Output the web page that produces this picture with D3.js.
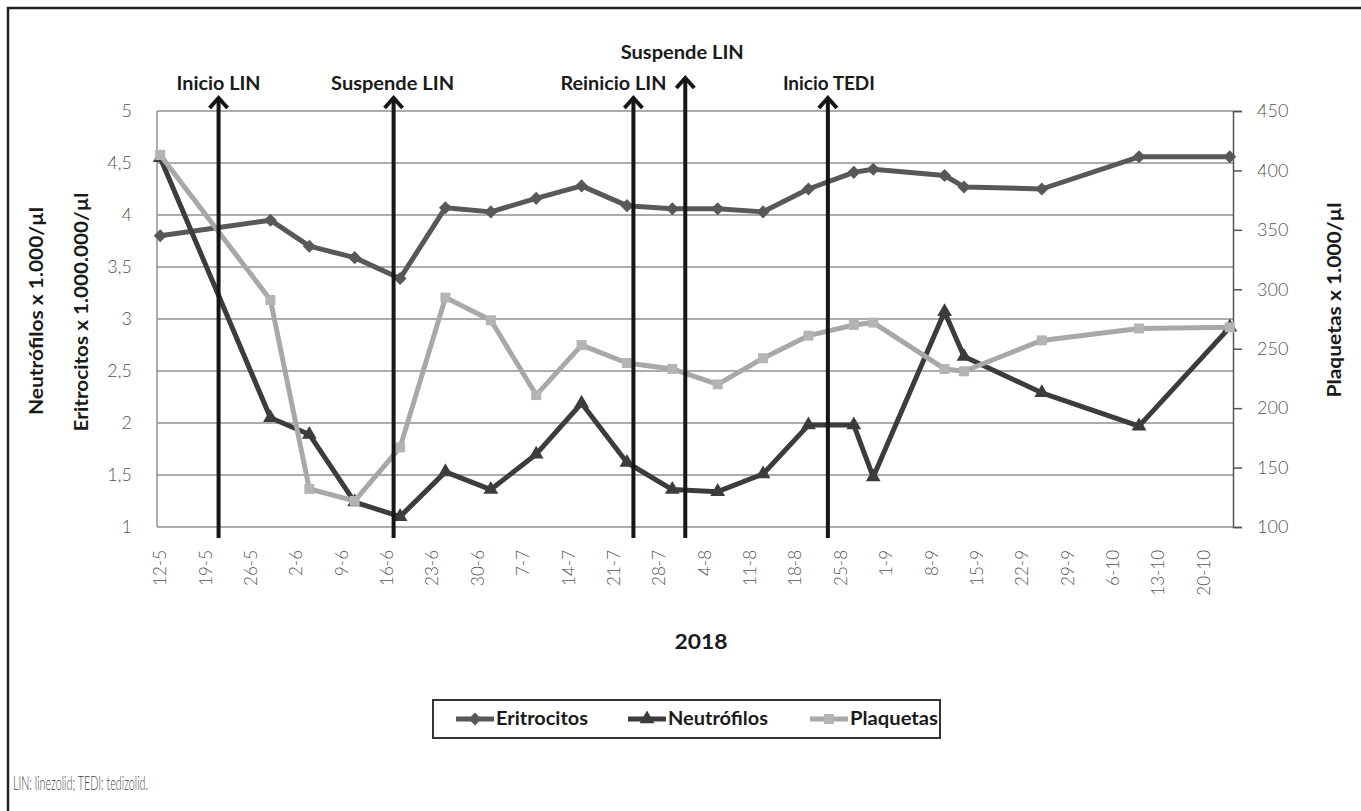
<!DOCTYPE html>
<html>
<head>
<meta charset="utf-8">
<script src="https://cdn.jsdelivr.net/npm/d3@7"></script>
<style>
  body { margin: 0; background: #fff; }
  svg { display: block; }
</style>
</head>
<body>
<div id="canvas"></div>
<script>
"use strict"

/* Datos: fechas de las analíticas (día-mes, 2018) */
let fechas = ["12-5","29-5","4-6","11-6","18-6","25-6","2-7","9-7","16-7","23-7","30-7",
              "6-8","13-8","20-8","27-8","30-8","10-9","13-9","25-9","10-10","24-10"];

// x 1.000.000/µl
let eritrocitos = [3.80,3.95,3.70,3.59,3.39,4.07,4.03,4.16,4.28,4.09,4.06,
                   4.06,4.03,4.25,4.41,4.44,4.38,4.27,4.25,4.56,4.56];
// x 1.000/µl
let neutrofilos = [4.55,2.05,1.89,1.24,1.10,1.53,1.36,1.70,2.19,1.62,1.36,
                   1.34,1.51,1.98,1.98,1.48,3.07,2.64,2.29,1.97,2.92];
// x 1.000/µl (eje derecho)
let plaquetas = [413,291,132,122,167,293,274,211,253,238,233,
                 220,242,261,270,272,233,231,257,267,268];

let semanas = ["12-5","19-5","26-5","2-6","9-6","16-6","23-6","30-6","7-7","14-7","21-7",
               "28-7","4-8","11-8","18-8","25-8","1-9","8-9","15-9","22-9","29-9","6-10",
               "13-10","20-10"];
let ticksIzq = [1, 1.5, 2, 2.5, 3, 3.5, 4, 4.5, 5];
let ticksDer = [100, 150, 200, 250, 300, 350, 400, 450];

let eventos = ["Inicio LIN", "Suspende LIN", "Reinicio LIN", "Suspende LIN", "Inicio TEDI"];
let fechasEventos = ["21-5", "17-6", "24-7", "1-8", "23-8"];

let series = ["Eritrocitos", "Neutrófilos", "Plaquetas"];

/* Configuración del dibujo */
let svgWidth = 1361;
let svgHeight = 811;

let plotLeft = 157;
let plotRight = 1233;
let plotTop = 111;
let plotBottom = 527;

let lineColors = ["#585858", "#3c3c3c", "#a8a8a8"];
let markerColors = ["#585858", "#3c3c3c", "#b4b4b4"];
let tickColor = "#555";
let gridColor = "#919191";

let fontName = "Lato, 'Open Sans', sans-serif";

function parseFecha(s) {
    let p = s.split("-");
    return new Date(Date.UTC(2018, +p[1] - 1, +p[0]));
}

let svg = d3.select("#canvas")
    .append("svg")
    .attr("width", svgWidth)
    .attr("height", svgHeight)
    .style("font-family", fontName);

/* marco (sólo se ven el borde superior e izquierdo) */
svg.append("path")
    .attr("d", "M8," + svgHeight + " L8,8 L" + svgWidth + ",8")
    .attr("fill", "none")
    .attr("stroke", "#222")
    .attr("stroke-width", 2.5);

/* Escalas */
let xScale = d3.scaleUtc()
    .domain([new Date(Date.UTC(2018, 4, 11, 12)), new Date(Date.UTC(2018, 9, 24, 12))])
    .range([plotLeft, plotRight]);

let yLeft = d3.scaleLinear()
    .domain([1, 5])
    .range([plotBottom, plotTop]);

let yRight = d3.scaleLinear()
    .domain([100, 450])
    .range([plotBottom, plotTop]);

let es = d3.formatLocale({decimal: ",", thousands: ".", grouping: [3], currency: ["", "€"]});
let fmt = es.format("~g");

/* Líneas de la cuadrícula */
svg.append("g")
    .selectAll("line")
    .data(ticksIzq)
    .join("line")
    .attr("x1", plotLeft)
    .attr("x2", plotRight)
    .attr("y1", d => yLeft(d))
    .attr("y2", d => yLeft(d))
    .attr("stroke", gridColor)
    .attr("stroke-width", 1.5);

// eje izquierdo (línea gris)
svg.append("line")
    .attr("x1", plotLeft).attr("x2", plotLeft)
    .attr("y1", plotTop).attr("y2", plotBottom)
    .attr("stroke", gridColor)
    .attr("stroke-width", 1.5);

svg.append("g")
    .selectAll("text")
    .data(ticksIzq)
    .join("text")
    .attr("x", plotLeft - 25)
    .attr("y", d => yLeft(d))
    .attr("dy", "0.35em")
    .attr("text-anchor", "end")
    .attr("font-size", 18)
    .attr("font-weight", 300)
    .attr("fill", tickColor)
    .text(d => fmt(d));

/* Eje derecho */
let rightAxis = svg.append("g")
    .attr("transform", "translate(" + plotRight + ",0)")
    .call(d3.axisRight(yRight).tickValues(ticksDer).tickSize(9).tickPadding(15).tickFormat(d3.format("d")));

rightAxis.select(".domain").attr("stroke", tickColor).attr("stroke-width", 1.5);
rightAxis.selectAll(".tick line").attr("stroke", tickColor).attr("stroke-width", 1.5);
rightAxis.selectAll(".tick text")
    .attr("font-family", fontName)
    .attr("font-size", 18)
    .attr("font-weight", 300)
    .attr("fill", tickColor);

/* Etiquetas de fecha (eje x) */
svg.append("g")
    .selectAll("text")
    .data(semanas)
    .join("text")
    .attr("transform", d => "translate(" + xScale(parseFecha(d)) + "," + (plotBottom + 23) + ") rotate(-90)")
    .attr("dy", "0.35em")
    .attr("text-anchor", "end")
    .attr("font-size", 17)
    .attr("font-weight", 300)
    .attr("fill", tickColor)
    .text(d => d);

/* Series */
let valores = [eritrocitos, neutrofilos, plaquetas];
let escalas = [yLeft, yLeft, yRight];
let simbolos = [
    d3.symbol(d3.symbolSquare, 85),
    d3.symbol(d3.symbolTriangle, 95),
    d3.symbol(d3.symbolSquare, 100)
];
let rotaciones = [45, 0, 0];

for (let s = 0; s < series.length; s++) {
    let puntos = fechas.map((f, i) => ({fecha: parseFecha(f), v: valores[s][i]}));
    let yS = escalas[s];

    svg.append("path")
        .datum(puntos)
        .attr("fill", "none")
        .attr("stroke", lineColors[s])
        .attr("stroke-width", 5)
        .attr("stroke-linejoin", "round")
        .attr("d", d3.line().x(d => xScale(d.fecha)).y(d => yS(d.v)));

    svg.append("g")
        .selectAll("path")
        .data(puntos)
        .join("path")
        .attr("transform", d => "translate(" + xScale(d.fecha) + "," + yS(d.v) + ") rotate(" + rotaciones[s] + ")")
        .attr("d", simbolos[s])
        .attr("fill", markerColors[s]);
}

/* Flechas de tratamiento */
let filaAlta = [false, false, false, true, false];
let desplazaTexto = [0, -1, -20, -3, 1];
let anchoTexto = [84, 123, 106, 123, 92];
let arrowBottom = 538;

for (let i = 0; i < eventos.length; i++) {
    let x = xScale(parseFecha(fechasEventos[i]));
    let tip = filaAlta[i] ? 77 : 97;
    let base = filaAlta[i] ? 59 : 90;

    svg.append("line")
        .attr("x1", x).attr("x2", x)
        .attr("y1", tip + 1).attr("y2", arrowBottom)
        .attr("stroke", "#161616")
        .attr("stroke-width", 4);

    svg.append("path")
        .attr("d", "M" + (x - 9) + "," + (tip + 11) + " L" + x + "," + (tip + 1) + " L" + (x + 9) + "," + (tip + 11))
        .attr("fill", "none")
        .attr("stroke", "#161616")
        .attr("stroke-width", 4);

    svg.append("text")
        .attr("x", x + desplazaTexto[i])
        .attr("y", base)
        .attr("text-anchor", "middle")
        .attr("font-size", 19)
        .attr("font-weight", "bold")
        .attr("fill", "#1a1a1a")
        .attr("textLength", anchoTexto[i])
        .attr("lengthAdjust", "spacingAndGlyphs")
        .text(eventos[i]);
}

/* Títulos de los ejes */
function tituloVertical(x, y, texto, ancho) {
    svg.append("text")
        .attr("transform", "translate(" + x + "," + y + ") rotate(-90)")
        .attr("text-anchor", "middle")
        .attr("dominant-baseline", "middle")
        .attr("font-size", 18)
        .attr("font-weight", "bold")
        .attr("fill", "#1a1a1a")
        .attr("textLength", ancho)
        .attr("lengthAdjust", "spacingAndGlyphs")
        .text(texto);
}
tituloVertical(38, 311, "Neutrófilos x 1.000/µl", 208);
tituloVertical(83, 312, "Eritrocitos x 1.000.000/µl", 239);
tituloVertical(1336, 300, "Plaquetas x 1.000/µl", 195);

svg.append("text")
    .attr("x", 701)
    .attr("y", 642)
    .attr("dy", "0.35em")
    .attr("text-anchor", "middle")
    .attr("font-size", 21)
    .attr("font-weight", "bold")
    .attr("fill", "#1a1a1a")
    .attr("textLength", 53)
    .attr("lengthAdjust", "spacingAndGlyphs")
    .text("2018");

/* Leyenda */
let legendX = 433;
let legendY = 700;
let legendW = 507;
let legendH = 38;

svg.append("rect")
    .attr("x", legendX)
    .attr("y", legendY)
    .attr("width", legendW)
    .attr("height", legendH)
    .attr("fill", "none")
    .attr("stroke", "#333")
    .attr("stroke-width", 2);

let legendEntryX = [456, 628, 810];
let legendTextW = [92, 100, 88];
let cy = legendY + legendH / 2;

for (let s = 0; s < series.length; s++) {
    let lx = legendEntryX[s];
    svg.append("line")
        .attr("x1", lx).attr("x2", lx + 38)
        .attr("y1", cy).attr("y2", cy)
        .attr("stroke", lineColors[s])
        .attr("stroke-width", 5);

    svg.append("path")
        .attr("transform", "translate(" + (lx + 19) + "," + cy + ") rotate(" + rotaciones[s] + ")")
        .attr("d", simbolos[s])
        .attr("fill", markerColors[s]);

    svg.append("text")
        .attr("x", lx + 40)
        .attr("y", cy)
        .attr("dy", "0.35em")
        .attr("font-size", 18)
        .attr("font-weight", "bold")
        .attr("fill", "#1a1a1a")
        .attr("textLength", legendTextW[s])
        .attr("lengthAdjust", "spacingAndGlyphs")
        .text(series[s]);
}

/* Nota al pie */
svg.append("text")
    .attr("x", 13)
    .attr("y", 783)
    .attr("dy", "0.35em")
    .attr("font-size", 19)
    .attr("font-weight", 300)
    .attr("fill", "#444")
    .attr("textLength", 135)
    .attr("lengthAdjust", "spacingAndGlyphs")
    .text("LIN: linezolid; TEDI: tedizolid.");
</script>
</body>
</html>
